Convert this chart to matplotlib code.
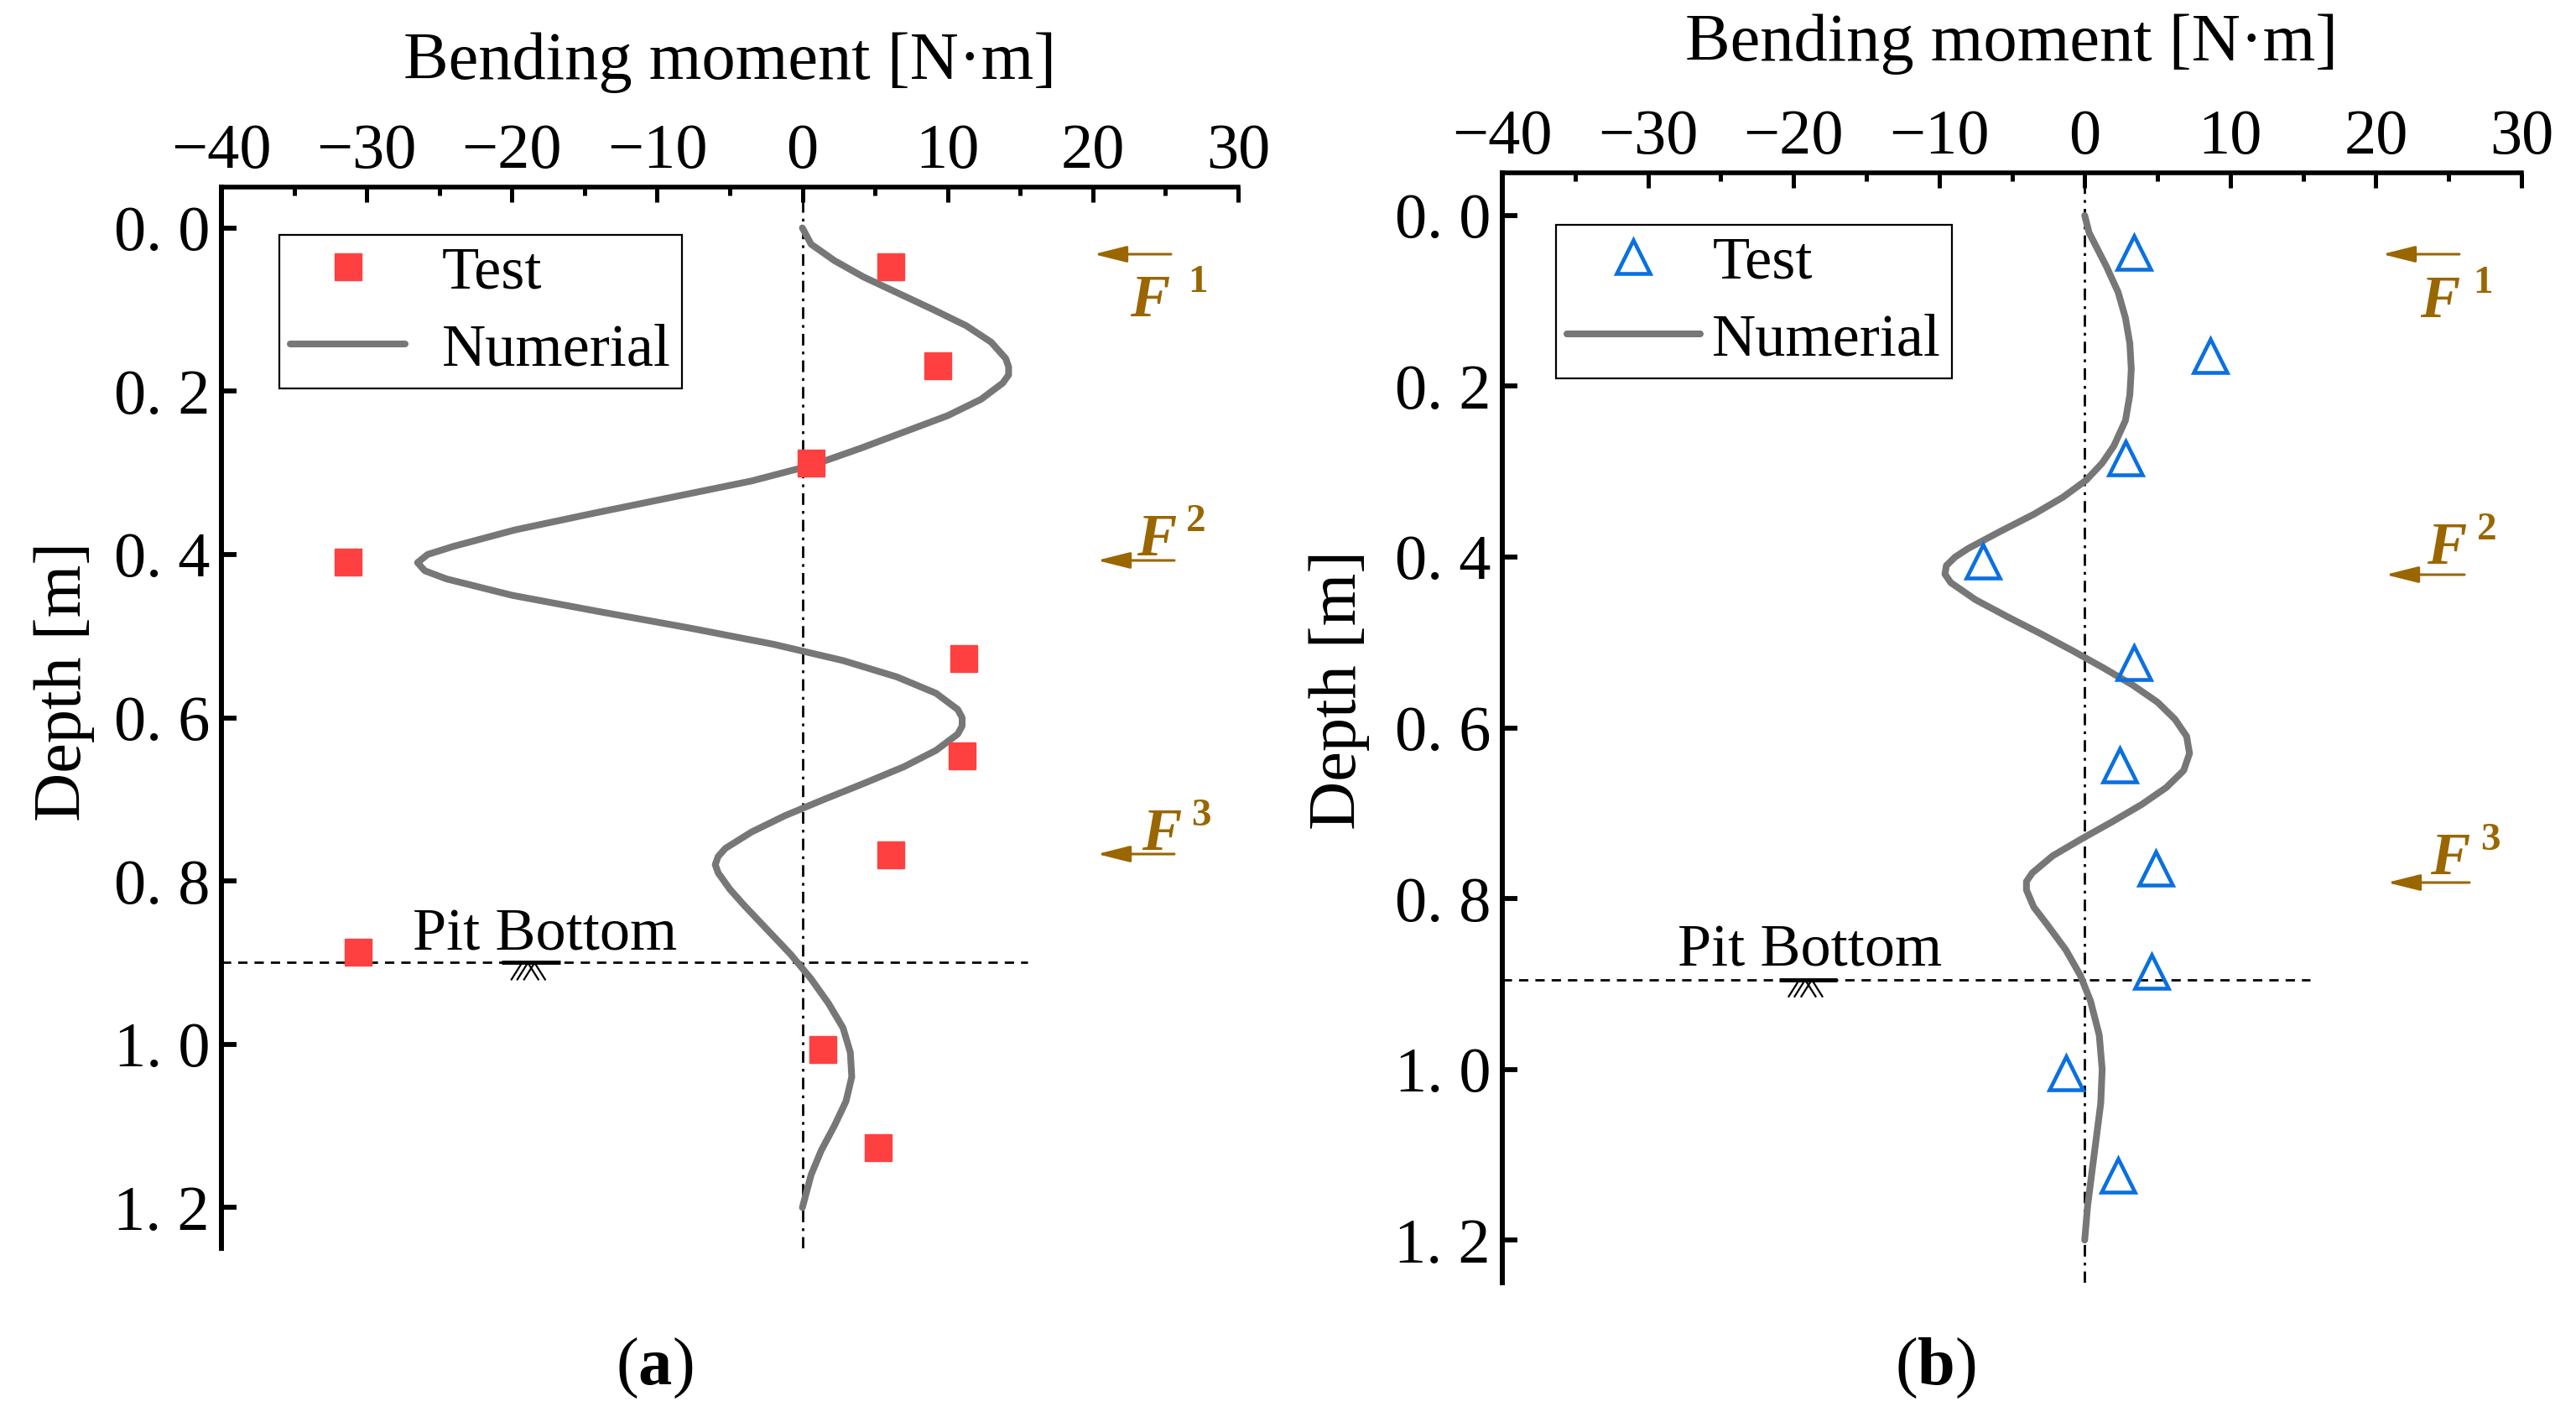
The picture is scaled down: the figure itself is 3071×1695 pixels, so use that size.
import matplotlib
matplotlib.use("Agg")
import matplotlib.pyplot as plt
from matplotlib.patches import FancyArrowPatch

plt.rcParams['font.family'] = ['Liberation Serif', 'DejaVu Serif']
plt.rcParams['axes.unicode_minus'] = True
plt.rcParams['mathtext.fontset'] = 'custom'
plt.rcParams['mathtext.rm'] = 'Liberation Serif'
plt.rcParams['mathtext.bf'] = 'Liberation Serif:bold'
plt.rcParams['mathtext.it'] = 'Liberation Serif:italic'

# ---------------- data ----------------
x_ticks = [-40, -30, -20, -10, 0, 10, 20, 30]
x_tick_labels = ['\u221240', '\u221230', '\u221220', '\u221210', '0', '10', '20', '30']
y_ticks = [0.0, 0.2, 0.4, 0.6, 0.8, 1.0, 1.2]
y_tick_labels = ['0. 0', '0. 2', '0. 4', '0. 6', '0. 8', '1. 0', '1. 2']

# (a) test points
test_a_depth = [0.048, 0.169, 0.288, 0.409, 0.528, 0.647, 0.768, 0.887, 1.006, 1.127]
test_a_moment = [6.1, 9.3, 0.6, -31.3, 11.1, 11.0, 6.1, -30.6, 1.4, 5.2]

# (a) numerical curve
num_a_depth = [0.00, 0.02, 0.04, 0.06, 0.08, 0.10, 0.12, 0.14, 0.16, 0.17, 0.18, 0.19,
               0.21, 0.23, 0.25, 0.27, 0.29, 0.31, 0.33, 0.35, 0.37, 0.39, 0.40, 0.41,
               0.42, 0.43, 0.45, 0.47, 0.49, 0.51, 0.53, 0.55, 0.57, 0.59, 0.60, 0.61,
               0.62, 0.64, 0.66, 0.68, 0.70, 0.72, 0.74, 0.76, 0.77, 0.78, 0.79, 0.81,
               0.83, 0.86, 0.89, 0.92, 0.95, 0.98, 1.01, 1.04, 1.07, 1.10, 1.13, 1.16,
               1.20]
num_a_moment = [0.0, 0.6, 2.2, 4.2, 6.6, 9.0, 11.3, 13.0, 14.0, 14.2, 14.2, 13.8,
                12.3, 10.0, 7.0, 4.0, 0.8, -3.5, -9.0, -14.5, -19.8, -24.0, -25.8, -26.5,
                -26.0, -24.5, -20.0, -14.0, -7.8, -2.0, 2.8, 6.5, 9.2, 10.7, 11.0, 11.0,
                10.7, 9.2, 7.0, 4.3, 1.5, -1.2, -3.5, -5.3, -5.8, -6.0, -5.8, -5.0,
                -4.0, -2.4, -0.8, 0.6, 1.8, 2.8, 3.3, 3.4, 3.0, 2.2, 1.3, 0.6,
                0.0]

# (b) test points
test_b_depth = [0.043, 0.164, 0.284, 0.405, 0.524, 0.644, 0.765, 0.885, 1.004, 1.124]
test_b_moment = [3.4, 8.6, 2.8, -7.0, 3.4, 2.4, 4.9, 4.6, -1.3, 2.3]

# (b) numerical curve
num_b_depth = [0.00, 0.02, 0.04, 0.06, 0.09, 0.12, 0.15, 0.18, 0.21, 0.24, 0.27, 0.29,
               0.31, 0.33, 0.35, 0.37, 0.39, 0.40, 0.41, 0.42, 0.43, 0.45, 0.47, 0.49,
               0.51, 0.53, 0.55, 0.57, 0.59, 0.61, 0.63, 0.65, 0.67, 0.69, 0.71, 0.73,
               0.75, 0.77, 0.78, 0.79, 0.81, 0.83, 0.86, 0.89, 0.92, 0.96, 1.00, 1.04,
               1.08, 1.12, 1.16, 1.20]
num_b_moment = [0.0, 0.3, 0.9, 1.5, 2.3, 2.8, 3.1, 3.2, 3.1, 2.8, 2.0, 1.2,
                0.1, -1.5, -3.5, -5.8, -8.0, -8.9, -9.5, -9.6, -9.2, -7.5, -5.3, -3.0,
                -0.8, 1.3, 3.3, 5.0, 6.2, 7.0, 7.2, 6.8, 5.6, 3.9, 1.9, -0.2,
                -2.2, -3.6, -4.0, -4.0, -3.5, -2.6, -1.3, -0.3, 0.4, 1.0, 1.2, 1.1,
                0.8, 0.5, 0.2, 0.0]

pit_depth_a = 0.9
pit_depth_b = 0.895
pit_line_xmax = 15.5
panel_labels = ['a', 'b']
force_labels = ['1', '2', '3']

# ---------------- style ----------------
W, H = 3071, 1695
fig = plt.figure(figsize=(W / 100, H / 100), dpi=100)


def fx(px):
    return px / W


def fy(py):
    return 1 - py / H


GRAY = '#777777'
RED = '#FF4040'
BLUE = '#0A70E0'
BROWN = '#9A6600'
TICK_FS = 55
LABEL_FS = 58
LEG_FS = 52

ax_a = fig.add_axes([fx(264), fy(1488), 1212 / W, 1265 / H])
ax_b = fig.add_axes([fx(1791), fy(1529), 1215 / W, 1323 / H])


def style_axis(ax, xlabel_y, ylabel_x):
    ax.set_xlim(-40, 30)
    ax.set_ylim(1.25, -0.05)
    for s in ['right', 'bottom']:
        ax.spines[s].set_visible(False)
    ax.spines['top'].set_linewidth(4)
    ax.spines['left'].set_linewidth(4.3)
    ax.xaxis.set_ticks_position('top')
    ax.xaxis.set_label_position('top')
    ax.set_xticks(x_ticks)
    ax.set_xticklabels(x_tick_labels)
    ax.set_xticks(list(range(-35, 30, 10)), minor=True)
    ax.set_yticks(y_ticks)
    ax.set_yticklabels(y_tick_labels)
    ax.tick_params(axis='x', which='major', direction='in', length=13, width=3.6,
                   labelsize=TICK_FS, pad=5)
    ax.tick_params(axis='x', which='minor', direction='in', length=7.5, width=3.6)
    ax.tick_params(axis='y', which='major', direction='in', length=13, width=4.2,
                   labelsize=TICK_FS, pad=10)
    ax.set_xlabel('Bending moment [N\u00b7m]', fontsize=LABEL_FS)
    ax.xaxis.label.set_va('baseline')
    ax.xaxis.set_label_coords(0.5, xlabel_y)
    ax.set_ylabel('Depth [m]', fontsize=LABEL_FS)
    ax.yaxis.label.set_va('center')
    ax.yaxis.label.set_ha('center')
    ax.yaxis.set_label_coords(ylabel_x, 0.534)
    zl = ax.axvline(0, color='black', lw=2.0)
    zl.set_dashes([5, 2.6, 1.2, 2.6])


def ground_symbol(ax, cx, depth, upx, upy):
    # upx: data units per pixel in x, upy: data units per pixel in y
    ax.plot([cx - 35 * upx, cx + 35 * upx], [depth, depth], color='black', lw=3.5,
            solid_capstyle='butt')
    for off in [-23, -16, -8]:
        ax.plot([cx + off * upx, cx + (off + 12) * upx],
                [depth + 20 * upy, depth + 1 * upy], color='black', lw=1.6)
    for off in [-3, 5]:
        ax.plot([cx + off * upx, cx + (off + 12) * upx],
                [depth + 1 * upy, depth + 20 * upy], color='black', lw=1.6)


style_axis(ax_a, 1.102, -0.155)
style_axis(ax_b, 1.101, -0.160)

# panel a
ax_a.plot(num_a_moment, num_a_depth, color=GRAY, lw=5.8, solid_joinstyle='round',
          solid_capstyle='round', label='Numerial', zorder=3)
ax_a.plot(test_a_moment, test_a_depth, linestyle='none', marker='s', ms=23,
          color=RED, mec=RED, label='Test', zorder=4)
ax_a.hlines(pit_depth_a, -40, pit_line_xmax, colors='black', linestyles=(0, (4, 3)), lw=2)
ax_a.text(-17.7, 0.885, 'Pit Bottom', fontsize=LEG_FS, ha='center', va='baseline')
ground_symbol(ax_a, -18.7, pit_depth_a, 1 / 17.31, 1 / 971)

# panel b
ax_b.plot(num_b_moment, num_b_depth, color=GRAY, lw=5.8, solid_joinstyle='round',
          solid_capstyle='round', label='Numerial', zorder=3)
ax_b.plot(test_b_moment, test_b_depth, linestyle='none', marker='^', ms=29, mew=3.3,
          color=BLUE, mfc='none', mec=BLUE, label='Test', zorder=4)
ax_b.hlines(pit_depth_b, -40, pit_line_xmax, colors='black', linestyles=(0, (4, 3)), lw=2)
ax_b.text(-18.9, 0.879, 'Pit Bottom', fontsize=LEG_FS, ha='center', va='baseline')
ground_symbol(ax_b, -19.0, pit_depth_b, 1 / 17.36, 1 / 1016.7)

# legends
for ax, anchor, hl, htp in [(ax_a, (fx(333), fy(280)), 1.9, 0.6),
                            (ax_b, (fx(1855), fy(268)), 2.2, 0.2)]:
    h, l = ax.get_legend_handles_labels()
    order = [l.index('Test'), l.index('Numerial')]
    leg = ax.legend([h[i] for i in order], [l[i] for i in order], loc='upper left',
                    bbox_to_anchor=anchor, bbox_transform=fig.transFigure,
                    borderaxespad=0, fontsize=LEG_FS, frameon=True, fancybox=False,
                    edgecolor='black', framealpha=1, handlelength=hl,
                    handletextpad=htp, borderpad=0.18, labelspacing=0.36, numpoints=1)
    leg.get_frame().set_linewidth(1.6)

# force annotations (pixel positions from reference)
forces = [
    # (tail_x, tip_x, arrow_y, F_left, F_base, sup_left, sup_base)
    (1396, 1304, 303, 1347, 377, 1416, 348),
    (1400, 1308, 668, 1355, 662, 1414, 633),
    (1400, 1308, 1018, 1361, 1013, 1420, 984),
    (2932, 2840, 303, 2885, 378, 2948, 349),
    (2938, 2844, 685, 2893, 672, 2953, 643),
    (2944, 2846, 1052, 2897, 1042, 2957, 1013),
]
for i, (tx, hx, ay, flx, fby, slx, sby) in enumerate(forces):
    fig.add_artist(FancyArrowPatch(
        (fx(tx), fy(ay)), (fx(hx), fy(ay)), transform=fig.transFigure,
        arrowstyle='-|>,head_length=2.4,head_width=0.6', mutation_scale=10,
        color=BROWN, lw=2.2, shrinkA=0, shrinkB=0))
    fig.text(fx(flx), fy(fby), 'F', fontsize=51, fontweight='bold', fontstyle='italic',
             color=BROWN, ha='left', va='baseline')
    fig.text(fx(slx), fy(sby), force_labels[i % 3], fontsize=34, fontweight='bold',
             color=BROWN, ha='left', va='baseline')

# panel labels
for cx, lab in [(780, panel_labels[0]), (2307, panel_labels[1])]:
    fig.text(fx(cx), fy(1631), '(' + r'$\mathbf{' + lab + '}$' + ')', fontsize=LABEL_FS,
             ha='center', va='center')

fig.savefig('out.png', dpi=100, facecolor='white')
